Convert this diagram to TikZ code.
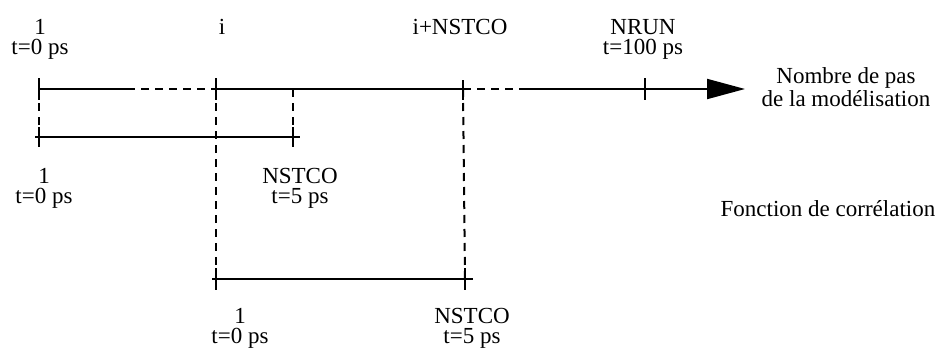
\documentclass[tikz,border=0pt]{standalone}
\usepackage{fontspec}
\setmainfont{Liberation Serif}
\usetikzlibrary{positioning,arrows.meta}
\tikzset{
    lbl/.style={font=\fontsize{11.5}{10}\selectfont,align=center,
        inner sep=0pt,anchor=north},
    axisline/.style={draw=black,line width=1pt},
    dashline/.style={draw=black,line width=1pt,dash pattern=on 4pt off 3pt},
    tickmark/.style={draw=black,line width=1pt},
    axisarrow/.style={-{Triangle[length=19pt,width=10pt]},draw=black,line width=1pt}
}
\begin{document}
\begin{tikzpicture}[x=0.5pt,y=-0.5pt]
    \useasboundingbox (0,0) rectangle (947,354);
    % points on the time axis
    \coordinate (a0) at (39,89);
    \coordinate (adash) at (127,89);
    \coordinate (ai) at (216,89);
    \coordinate (aend) at (463,89);
    \coordinate (adash2) at (520,89);
    \coordinate (arun) at (645,89);
    \coordinate (atip) at (745,89);
    % first correlation window
    \coordinate (c0) at (39,137);
    \coordinate (cs) at (35,137);
    \coordinate (cn) at (293,137);
    \coordinate (ce) at (300,137);
    \coordinate (cup) at (293,89);
    % second correlation window
    \coordinate (d0) at (216,279);
    \coordinate (ds) at (212,279);
    \coordinate (dn) at (465,279);
    \coordinate (de) at (473,279);

    % labels
    \node[lbl] (lstart) at (40,19) {1\\t=0 ps};
    \node[lbl] (li) at (222,19) {i};
    \node[lbl] (lend) at (460,19) {i+NSTCO};
    \node[lbl] (lrun) at (643,19) {NRUN\\t=100 ps};
    \node[lbl] (laxis) at (846,67) {Nombre de pas\\de la mod\'elisation};
    \node[lbl] (lc0) at (44,168) {1\\t=0 ps};
    \node[lbl] (lcn) at (300,168) {NSTCO\\t=5 ps};
    \node[lbl] (lcorr) at (828,200) {Fonction de corr\'elation};
    \node[lbl] (ld0) at (240,308) {1\\t=0 ps};
    \node[lbl] (ldn) at (472,308) {NSTCO\\t=5 ps};

    % time axis
    \draw[axisline] (a0) -- (adash);
    \draw[dashline] (adash) -- (ai);
    \draw[axisline] (ai) -- (aend);
    \draw[dashline] (aend) -- (adash2);
    \draw[axisarrow] (adash2) -- (atip);
    \draw[tickmark] (a0) ++(0,-11) -- ++(0,22);
    \draw[tickmark] (ai) ++(0,-11) -- ++(0,22);
    \draw[tickmark] (aend) ++(0,-9) -- ++(0,20);
    \draw[tickmark] (arun) ++(0,-11) -- ++(0,22);

    % windows
    \draw[axisline] (cs) -- (ce);
    \draw[tickmark] (c0) ++(0,-10) -- ++(0,20);
    \draw[tickmark] (cn) ++(0,-10) -- ++(0,20);
    \draw[axisline] (ds) -- (de);
    \draw[tickmark] (d0) ++(0,-11) -- ++(0,22);
    \draw[tickmark] (dn) ++(0,-11) -- ++(0,22);

    % projections
    \draw[dashline] (a0) -- (c0);
    \draw[dashline] (cup) -- (cn);
    \draw[dashline] (ai) -- (d0);
    \draw[dashline] (aend) -- (dn);
\end{tikzpicture}
\end{document}
